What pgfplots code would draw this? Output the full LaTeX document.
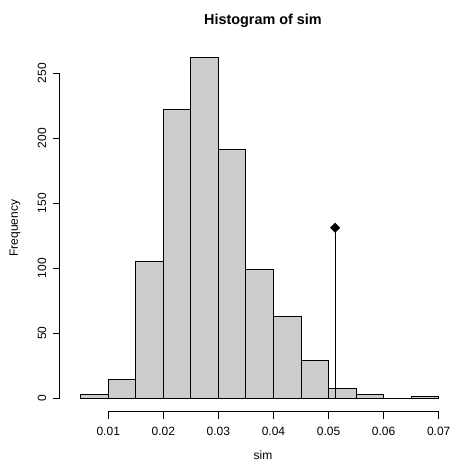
\documentclass[border=0pt]{standalone}
\usepackage{pgfplots}
\pgfplotsset{compat=1.18}
\usepackage{fontspec}
\setmainfont{Liberation Sans}
\definecolor{barfill}{HTML}{CCCCCC}
\begin{document}
\fontsize{12bp}{14.4bp}\selectfont
\begin{tikzpicture}
\useasboundingbox (0,0) rectangle (451bp,462bp);
\begin{axis}[
  at={(66.4bp,50.3bp)}, anchor=south west,
  scale only axis, width=386.6bp, height=367.9bp,
  xmin=0.0024, xmax=0.0726, ymin=-10.5, ymax=272.5,
  axis line style={draw=none}, xtick=\empty, ytick=\empty,
  clip=false,
]
\addplot[ybar interval, fill=barfill, draw=black, line width=1bp]
  coordinates {(0.005,3) (0.010,14) (0.015,105) (0.020,222) (0.025,262)
  (0.030,191) (0.035,99) (0.040,63) (0.045,29) (0.050,7) (0.055,3)
  (0.060,0) (0.065,1) (0.070,1)};
\addplot[black, line width=1bp] coordinates {(0.0512,0) (0.0512,131)};
\addplot[only marks, mark=square*, mark size=3.4bp, mark options={rotate=45}, black] coordinates {(0.0512,131)};
% x axis
\draw[line width=1bp] (axis cs:0.01,-10.5) -- (axis cs:0.07,-10.5);
\draw[line width=1bp] (axis cs:0.06,0) -- (axis cs:0.065,0);
\pgfplotsinvokeforeach{0.01,0.02,0.03,0.04,0.05,0.06,0.07}{
  \draw[line width=1bp] (axis cs:#1,-10.5) -- ([yshift=-7.2bp]axis cs:#1,-10.5);
  \node[anchor=center] at ([yshift=-20bp]axis cs:#1,-10.5) {#1};
}
% y axis
\draw[line width=1bp] (axis cs:0.001237,0) -- (axis cs:0.001237,250);
\pgfplotsinvokeforeach{0,50,100,150,200,250}{
  \draw[line width=1bp] (axis cs:0.001237,#1) -- ([xshift=-7.2bp]axis cs:0.001237,#1);
  \node[anchor=center, rotate=90] at ([xshift=-18bp]axis cs:0.001237,#1) {#1};
}
\end{axis}
\node[font=\bfseries\fontsize{14.4bp}{17bp}\selectfont, anchor=center] at (263bp,441.3bp) {Histogram of sim};
\node[anchor=center] at (263bp,7bp) {sim};
\node[anchor=center, rotate=90] at (15bp,234bp) {Frequency};
\end{tikzpicture}
\end{document}
